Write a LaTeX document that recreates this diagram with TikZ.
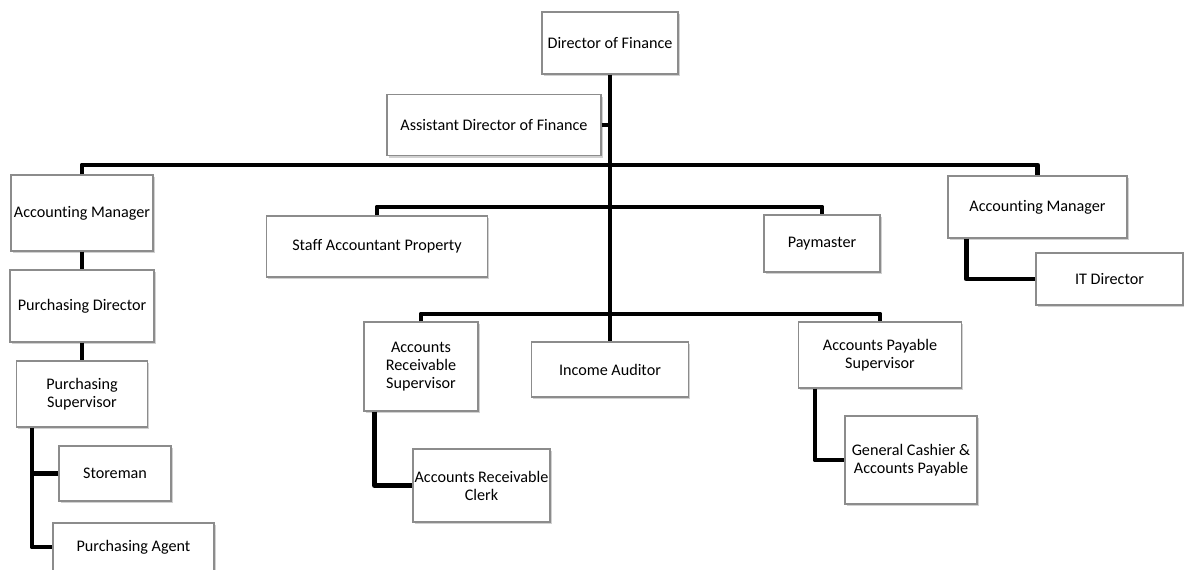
\documentclass[tikz,border=0pt]{standalone}
\usepackage{fontspec}
\setmainfont{Carlito}[Ligatures=NoCommon]
\usetikzlibrary{shadows}

\tikzset{
	orgbox/.style={draw=black!45, line width=0.6pt, fill=white, inner sep=0pt, align=center,
		font=\fontsize{9.2}{10.2}\selectfont,
		drop shadow={shadow xshift=0.9pt, shadow yshift=-1.4pt, opacity=0.3, fill=black!60}},
	orgline/.style={line width=2.8pt, line join=round}
}

\begin{document}
\begin{tikzpicture}[x=0.02cm, y=-0.02cm]
			\useasboundingbox (0,0) rectangle (1184,569);
			\node[orgbox, minimum width=2.72cm, minimum height=1.24cm] (dof) at (610,43) {Director of Finance}; % top
			\node[orgbox, minimum width=4.28cm, minimum height=1.22cm] (adf) at (494,125) {Assistant Director of Finance};
			% left column
			\node[orgbox, minimum width=2.84cm, minimum height=1.52cm] (amleft) at (82,213) {Accounting Manager};
			\node[orgbox, minimum width=2.88cm, minimum height=1.44cm] (pd) at (82,306) {Purchasing Director};
			\node[orgbox, minimum width=2.62cm, minimum height=1.32cm] (ps) at (82,394) {Purchasing\\Supervisor};
			\node[orgbox, minimum width=2.24cm, minimum height=1.10cm] (store) at (115,473.5) {Storeman};
			\node[orgbox, minimum width=3.22cm, minimum height=0.96cm] (pa) at (133.5,547) {Purchasing Agent};
			% middle
			\node[orgbox, minimum width=4.42cm, minimum height=1.22cm] (sap) at (377,246.5) {Staff Accountant Property};
			\node[orgbox, minimum width=2.32cm, minimum height=1.14cm] (pay) at (822,243.5) {Paymaster};
			\node[orgbox, minimum width=2.28cm, minimum height=1.78cm] (ars) at (421,366.5) {Accounts\\Receivable\\Supervisor};
			\node[orgbox, minimum width=3.14cm, minimum height=1.10cm] (ia) at (610,369.5) {Income Auditor};
			\node[orgbox, minimum width=3.26cm, minimum height=1.32cm] (aps) at (880,355) {Accounts Payable\\Supervisor};
			\node[orgbox, minimum width=2.74cm, minimum height=1.46cm] (arc) at (481.5,485.5) {Accounts Receivable\\Clerk};
			\node[orgbox, minimum width=2.64cm, minimum height=1.76cm] (gc) at (911,460) {General Cashier \&\\Accounts Payable};
			% right column
			\node[orgbox, minimum width=3.58cm, minimum height=1.24cm] (amright) at (1037.5,207) {Accounting Manager};
			\node[orgbox, minimum width=2.94cm, minimum height=1.04cm] (itd) at (1109.5,279) {IT Director};
			% bars off the trunk
			\coordinate (bartop) at (610,165);
			\coordinate (barmid) at (610,207);
			\coordinate (barlow) at (610,314);
			\draw[orgline] (dof.south) -- (ia.north); % trunk
			\draw[orgline] (adf.east) -- (adf.east -| dof.south);
			\draw[orgline] (amleft.north) |- (bartop) -| (amright.north);
			\draw[orgline] (sap.north) |- (barmid) -| (pay.north);
			\draw[orgline] (ars.north) |- (barlow) -| (aps.north);
			\draw[orgline] (amleft.south) -- (pd.north);
			\draw[orgline] (pd.south) -- (ps.north);
			\draw[orgline] (ps.south west) ++(16,0) coordinate (psleg) |- (pa.west);
			\draw[orgline] (store.west) -- (store.west -| psleg);
			\draw[orgline] (ars.south west) ++(11,0) |- (arc.west);
			\draw[orgline] (aps.south west) ++(17,0) |- (gc.west);
			\draw[orgline] (amright.south west) ++(19,0) |- (itd.west);
		\end{tikzpicture}
\end{document}
